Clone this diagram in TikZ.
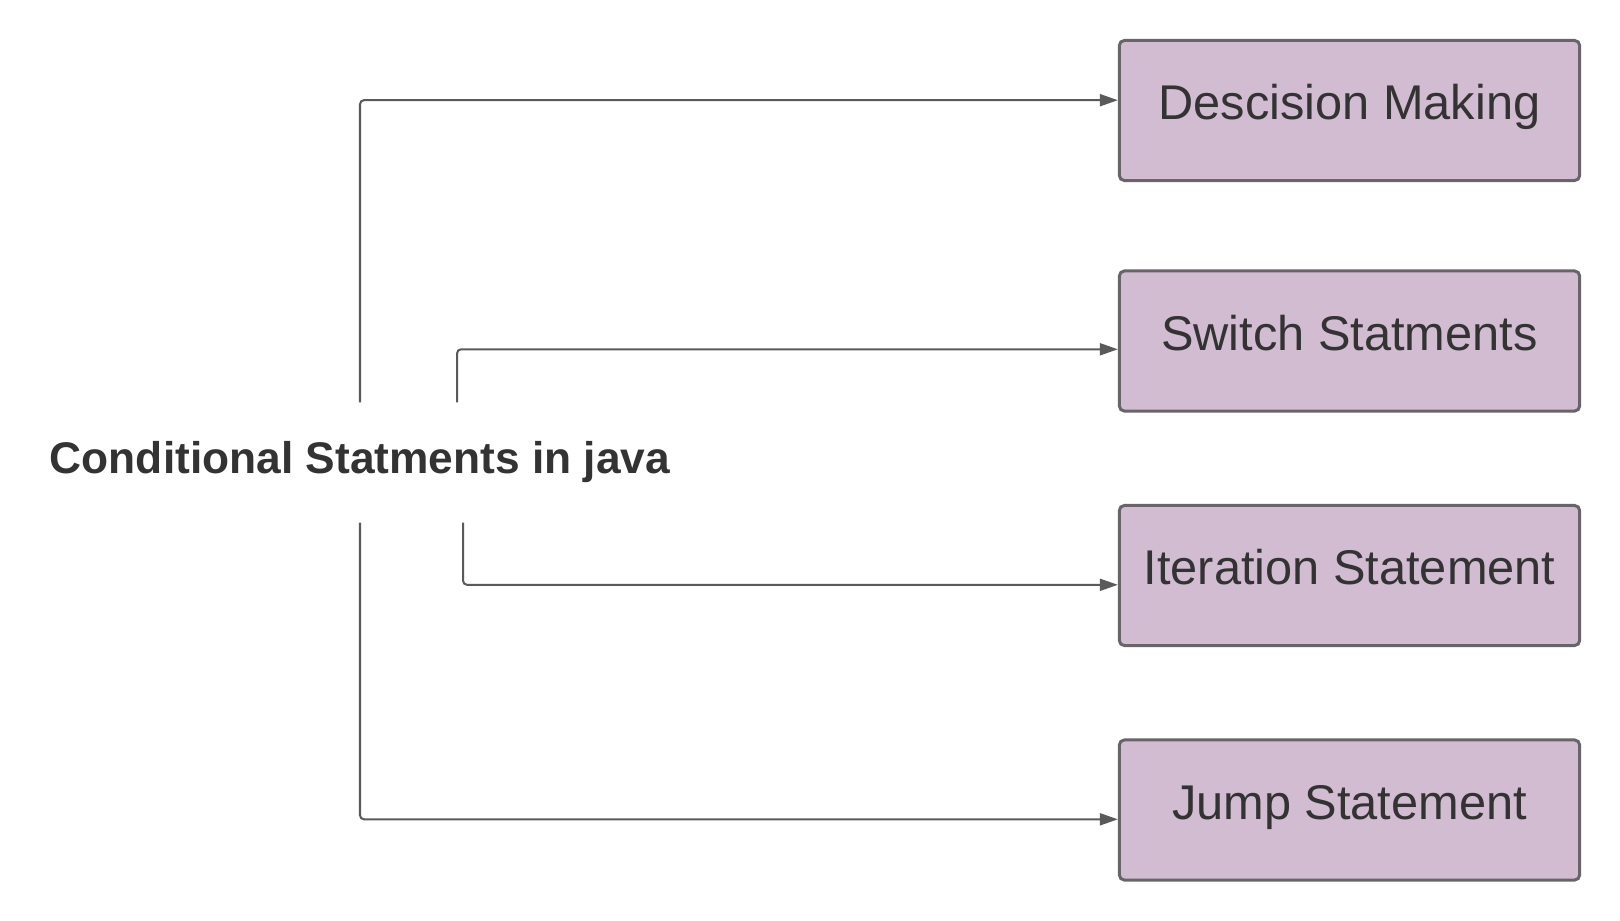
\documentclass[tikz,border=0pt]{standalone}
\usepackage{fontspec}
\setmainfont{Liberation Sans}
\usetikzlibrary{arrows.meta, positioning, calc}
\definecolor{Lilac}{HTML}{D2BCD2}
\definecolor{EdgeGrey}{HTML}{676567}
\definecolor{LineGrey}{HTML}{5A5A5A}
\definecolor{InkGrey}{HTML}{333333}

\tikzset{
    kindbox/.style={draw=EdgeGrey, line width=0.85pt, fill=Lilac, rounded corners=0.05cm,
        minimum width=4.6cm, minimum height=1.4cm, inner sep=0pt, text=InkGrey,
        font=\fontsize{13.86}{16}\selectfont, text height=0.75em, text depth=0.22em},
    branch/.style={draw=LineGrey, line width=0.57pt, rounded corners=0.04cm,
        -{Triangle[length=5.1pt, width=3.4pt]}}
}

\begin{document}
\begin{tikzpicture}[x=0.01cm, y=-0.01cm]
    \useasboundingbox (0,0) rectangle (1620,921);
    % root label
    \node[minimum height=1.19cm, inner sep=0pt, text=InkGrey,
        font=\bfseries\fontsize{12.6}{15}\selectfont] (root) at (360,462.5) {Conditional Statments in java};
    % the four kinds
    \node[kindbox] (decide) at (1349.5,110.5) {Descision Making};
    \node[kindbox] (switch) at (1349.5,341) {Switch Statments};
    \node[kindbox] (iterate) at (1349.5,575.5) {Iteration Statement};
    \node[kindbox] (jump) at (1349.5,810) {Jump Statement};
    % connectors
    \draw[branch] (root.north) |- ([yshift=0.103cm]decide.west);
    \draw[branch] ([xshift=0.97cm]root.north) |- ([yshift=-0.083cm]switch.west);
    \draw[branch] ([xshift=1.03cm]root.south) |- ([yshift=-0.093cm]iterate.west);
    \draw[branch] (root.south) |- ([yshift=-0.093cm]jump.west);
\end{tikzpicture}
\end{document}
